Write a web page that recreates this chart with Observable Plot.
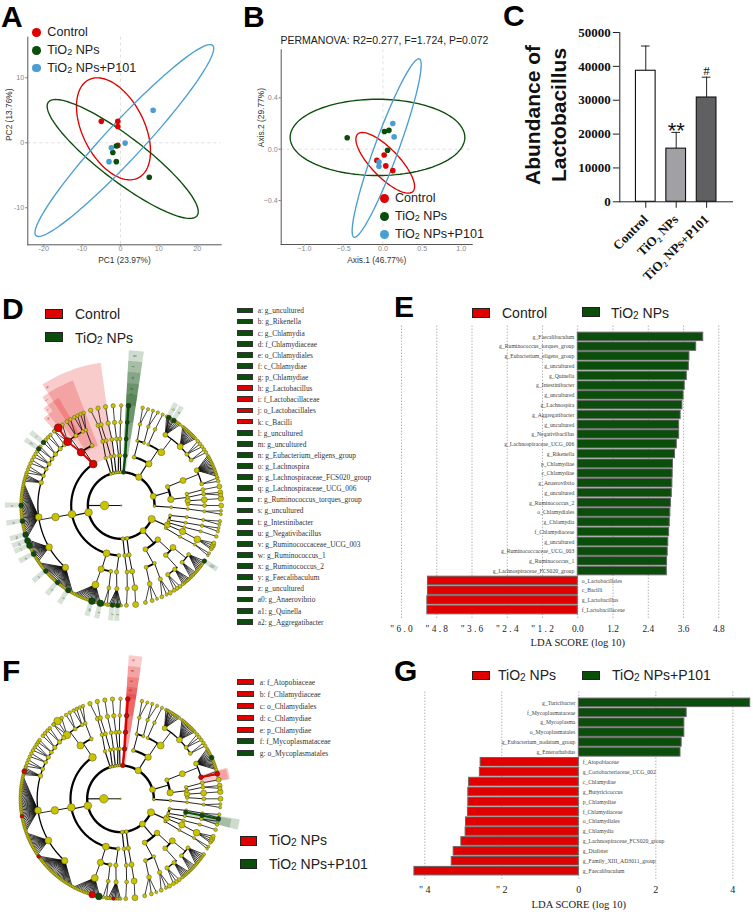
<!DOCTYPE html>
<html><head><meta charset="utf-8">
<script src="https://cdn.jsdelivr.net/npm/d3@7"></script>
<script src="https://cdn.jsdelivr.net/npm/@observablehq/plot@0.6"></script>
<style>
html,body{margin:0;padding:0;background:#fff}
#root{position:relative;width:753px;height:912px;overflow:hidden;font-family:"Liberation Sans",Arial,sans-serif}
#root svg{position:absolute;overflow:visible;background:transparent}
.h{position:absolute;white-space:nowrap;line-height:1;transform:translateY(-50%)}
.p{position:absolute;font-weight:bold;font-size:30px;line-height:1;color:#000}
.s{position:absolute;box-sizing:border-box;border:1.5px solid #222}
.c{position:absolute;border-radius:50%}
sub{font-size:.72em;vertical-align:-0.12em;line-height:0}
</style></head><body><div id="root"></div>
<script>
const RED="#e00000", GREEN="#0b4d0b", BLUE="#4a9ed2", OLIVE="#c9c300";
const groupNames=["Control","TiO2 NPs","TiO2 NPs+P101"];
const groupColors=[RED,GREEN,BLUE];

// Panel A
const pcaControlX=[-5.0,-0.7,-0.7,-0.7], pcaControlY=[3.3,3.3,2.5,-0.4];
const pcaTiO2X=[-1.1,-2.0,-1.1,7.5], pcaTiO2Y=[-0.5,-1.5,-2.9,-5.3];
const pcaP101X=[8.5,1.2,-2.4,-3.0], pcaP101Y=[5.0,-0.05,-0.76,-2.9];
// ellipses: centre x, centre y, half width, half height, correlation
const pcaEllipses=[[-1.83,2.15,9.65,7.85,-0.44],[0.57,-2.49,19.7,9.15,-0.887],[1.0,0.35,23.3,14.77,0.96]];
// Panel B
const pcoaControlX=[0.016,-0.077,0.037,0.126], pcoaControlY=[-0.045,-0.087,-0.13,-0.167];
const pcoaTiO2X=[-0.455,0.02,0.077,0.06], pcoaTiO2Y=[0.089,0.138,0.147,-0.008];
const pcoaP101X=[0.126,0.143,-0.05,-0.05], pcoaP101Y=[0.2,0.096,-0.1,-0.133];
const pcoaEllipses=[[0.03,-0.106,0.374,0.236,-0.78],[-0.069,0.092,1.113,0.297,0],[0.048,0.009,0.44,0.695,0.93]];
// Panel C
const lactoMeans=[38700,15700,30800], lactoTops=[46000,20500,36800];
const lactoFills=["#ffffff","#a0a0a5","#606062"], lactoMarks=["","**","#"];
// Panel E
const eNames=["g_Faecalibaculum","g_Ruminococcus_torques_group","g_Eubacterium_eligens_group","g_uncultured","g_Quinella","g_Intestinibacter","g_uncultured","g_Lachnospira","g_Aggregatibacter","g_uncultured","g_Negativibacillus","g_Lachnospiraceae_UCG_006","g_Rikenella","p_Chlamydiae","c_Chlamydiae","g_Anaerovibrio","g_uncultured","g_Ruminococcus_2","o_Chlamydiales","g_Chlamydia","f_Chlamydiaceae","g_uncultured","g_Ruminococcaceae_UCG_003","g_Ruminococcus_1","g_Lachnospiraceae_FCS020_group","o_Lactobacillales","c_Bacilli","g_Lactobacillus","f_Lactobacillaceae"];
const eScores=[4.27,4.03,3.8,3.78,3.71,3.64,3.6,3.56,3.5,3.45,3.45,3.37,3.31,3.24,3.23,3.22,3.2,3.17,3.15,3.13,3.11,3.08,3.06,3.04,3.03,-5.1,-5.1,-5.12,-5.12];
const eTicks=[-6,-4.8,-3.6,-2.4,-1.2,0,1.2,2.4,3.6,4.8];
const eTickLabels=['" 6 . 0','" 4 . 8','" 3 . 6','" 2 . 4','" 1 . 2','0.0','1.2','2.4','3.6','4.8'];
// Panel G
const gNames=["g_Turicibacter","f_Mycoplasmataceae","g_Mycoplasma","o_Mycoplasmatales","g_Eubacterium_nodatum_group","g_Enterorhabdus","f_Atopobiaceae","g_Coriobacteriaceae_UCG_002","c_Chlamydiae","g_Butyricicoccus","p_Chlamydiae","f_Chlamydiaceae","o_Chlamydiales","g_Chlamydia","g_Lachnospiraceae_FCS020_group","g_Dialister","g_Family_XIII_AD3011_group","g_Faecalibaculum"];
const gScores=[4.45,2.8,2.74,2.74,2.67,2.64,-2.55,-2.57,-2.85,-2.87,-2.87,-2.88,-2.93,-2.94,-3.05,-3.25,-3.3,-4.27];
const gTicks=[-4,-2,0,2,4];
const gTickLabels=['" 4','" 2','0','2','4'];
// Keys
const keyD=["a: g_uncultured","b: g_Rikenella","c: g_Chlamydia","d: f_Chlamydiaceae","e: o_Chlamydiales","f: c_Chlamydiae","g: p_Chlamydiae","h: g_Lactobacillus","i: f_Lactobacillaceae","j: o_Lactobacillales","k: c_Bacilli","l: g_uncultured","m: g_uncultured","n: g_Eubacterium_eligens_group","o: g_Lachnospira","p: g_Lachnospiraceae_FCS020_group","q: g_Lachnospiraceae_UCG_006","r: g_Ruminococcus_torques_group","s: g_uncultured","t: g_Intestinibacter","u: g_Negativibacillus","v: g_Ruminococcaceae_UCG_003","w: g_Ruminococcus_1","x: g_Ruminococcus_2","y: g_Faecalibaculum","z: g_uncultured","a0: g_Anaerovibrio","a1: g_Quinella","a2: g_Aggregatibacter"];
const keyDRed=[7,8,9,10];
const keyF=["a: f_Atopobiaceae","b: f_Chlamydiaceae","c: o_Chlamydiales","d: c_Chlamydiae","e: p_Chlamydiae","f: f_Mycoplasmataceae","g: o_Mycoplasmatales"];
const keyFGreen=[5,6];

// Cladogram: [angle clockwise from top, node radius, ...children]; a bare number is a small leaf
const cladeTree=[270,4.3,
 [114,3.6,
  [101.5,1.6,[100,1.6,[100,1.6,[99,1.7],[101,1.5]]]],
  [107,1.6,[105,1.6,[104,1.8,[103,1.5],[105,1.7]]]],
  [110,1.4,[109,1.5,[108,1.6,[108,1.8]]]],
  [113,3,[113,3.2,[114,3.4,[112,2],[113.5,2.6],[115,2.2],[116,1.6]]]],
  [117,1.4,[118,1.5,[118,1.5,[118.5,1.5],[120,1.3]]]]],
 [139,3,
  [133,2.8,
   [129,3,[126,2,[123.7,1.8],125,126,127,128,129,130,131],[133,2,132,133,134,135,136]],
   [138,2.4,[140,2.2,137,138,139,140,141,142],[146,2.2,[144,2],[146,2],[148,2]]]],
  [151,2.5,
   [150,1.8,[152,2.2,[150.7,2.2],[153,1.6],[156,2]]],
   [158,2,[160,2.4,[159,1.5],[162,2],[166,2]]]]],
 [170,2,[171,2.2,[170.5,2.6,[170.6,3,[171.7,3]]]]],
 [177,2,[176,2,[175,2,[175.8,2,[177,2]]]]],
 [258,3.8,
  [182.7,2,[184,2.2,[183,2.2,180,181,182,183,184,185,186,187]]],
  [197,3.5,
   [189,2,[188.5,2,[188,2],[190,1.5]]],
   [197.5,3.2,[198,3.5,192,193,194,195,196,197,198,199,200,201,202,203,204,205,206,207,208]]],
  [260,3.8,[260,3.8,
   [222,3.2,209,210,211,212,213,214,215,216,217,218,219,220,221,222,223,224,225,226,227,228,229,230,231,232,233,234,235],
   [240,3.4,236,237,238,239,240,241,242,243,244,245,246,247,248,249,250],
   [262,3.4,251,252,253,254,255,256,257,258,259,260,261,262,263,264,265,266,267,268,269,270,271,272,273,274,275,276,277,278,279,280,281,282,283],
   [286,2.4,284,285,286,287,288],
   [291,2,[289,1.8],[291,1.8],[293,1.8]],
   [296,2,[295,1.8],[297,1.8]],
   [300,2.2,[299,1.8],[301,1.8],[303,1.8]],
   [304,2,[304.5,1.8],[306,1.8]],
   [308,2.2,[309,1.8],[311,1.8]],
   [313,2.2,[313,1.8],[315,1.8]],
   [317,2.2,[318,1.8]]]],
  [326,3.8,
   [323,3.5,
    [320,3.8,[321,3.8],[318,1.8],[324,1.8]],
    [327,2,[327,1.8],[329.5,1.8]],
    [332.5,1.8,[332,1.8],[334,1.8]]],
   [334,2,[335,1.8,[336,1.8],[338,1.8]]]]],
 [342,1.5,[342,1.8,[344,2,[344,2.2,[342.2,2.2]]]]],
 [346,1.5,[348,1.8,[347,2,[346,2.2,[346.6,2.2]]]]],
 [351,1.5,[352,1.8,[352,2,[351,2.2,[351,2.2]]]]],
 [355,1.5,[357,1.8,[356,2,[355.4,2.2,[355.4,2.2]]]]],
 [359,1.5,[359,1.8,[359,2,[359.5,1.8,[360,1.8]]]]],
 [364,1.6,[364.5,1.8,[364.3,1.8,[364.2,1.8,[364.2,1.8]]]]],
 [392,3.2,
  [15,2,[14,1.6,[13,1.8,[12.4,1.8],[15.6,1.6]]],[20,1.6,[19,1.8,[18.5,1.6],[21.5,1.6]]]],
  [33.6,3.2,
   [24,1.6,[24,1.8,[24.5,1.6]]],
   [37,3.5,
    [32,2.5,27,28,28.5,29,30,31,31.8,33,34,35,36],
    [45,3,38,39,40,41,42,43,44,45,46,47,48],
    [52,2,[50,1.8],[52,1.8],[54,1.8]],
    [57,2,[56,1.8],[58,1.8]]]]],
 [434,3,
  [68,2.2,[68,3,[65,2.5,60,61,62,63,64,65,66,67,68,69,70,71,72,73],[75,2,[74,1.8],[76,1.8]]]],
  [83,3.2,
   [80,1.8,[79,2,[79,2.5]]],
   [83,1.8,[82,2,[82.4,2.5],[84,2]]],
   [86,2.8,[86,3,[86,2.8]]],
   [89,1.8,[90,2,[90,2.5]]]]],
 [451,1.4,[92,1.5,[93,1.5,[94,1.6,[93,1.5],[95,1.5]]]]]
];

// Sectors: start angle, end angle, inner and outer ring, colour group
const dSectorA0=[-33,-36,-38.6,-41.7, 3,3,3,3,3];
const dSectorA1=[-8,-21,-30,-36, 8.6,8.6,8.6,8.6,8.6];
const dSectorR0=[2.9,3.8,4.8,5.9, 2,3,4,5,6];
const dSectorR1=[8.62,8.0,7.42,6.96, 9.3,8.66,8.0,7.32,6.66];
const dSectorC=[RED,RED,RED,RED,GREEN,GREEN,GREEN,GREEN,GREEN];
const dTipAngles=[28.5,31.8,123.7,182,185,192,197,212,219.6,229,241,246.4,249.4,253,261,270,304.5,309];
const dTipLabels=["b","a","a0","z","y","x","w","v","u","t","s","r","q","p","o","n","m","l"];
const dTipSizes=[2.3,2.3,2.2,2.3,2.3,3.3,3.3,2.6,2.2,2.3,2.5,3,3,2.8,2.4,2.4,2.3,2.3];
const dChainGreenRing=[2,3,4,5,6], dChainGreenAngle=[364,364.6,364.3,364.2,364.2], dChainGreenR=[2,2,2,2,2.4];
const dChainRedRing=[3,4,5,6], dChainRedAngle=[326,323,320,321], dChainRedR=[3.8,3.8,3.9,3.9];
const dChainLabels=["g","f","e","d","c"], dChainLabelRing=[9,8.35,7.7,7,6.7];
const dRedLabels=["k","j","i","h"], dRedLabelRing=[8.35,7.75,7.25,6.8], dRedLabelAngle=[-32,-35,-37.5,-40];

const fSectorA0=[3.5,3.5,3.5,3.5,3.5, 74,74.5, 100,100.5];
const fSectorA1=[9,9,9,9,9, 80,80, 105,105];
const fSectorR0=[2,3,4,5,6, 4.9,5.9, 3.9,4.9];
const fSectorR1=[8.6,7.95,7.3,6.7,6.3, 6.7,6.6, 7.3,6.8];
const fSectorC=[RED,RED,RED,RED,RED,RED,RED,GREEN,GREEN];
const fChainRedRing=[2,3,4,5,6], fChainRedAngle=[364,364.6,364.3,364.2,364.2], fChainRedR=[2.2,2.3,2.3,2.3,2.4];
const fChain2Ring=[5,6], fChain2Angle=[75,75.5], fChain2R=[2.4,2.4];
const fChainGreenRing=[4,5,6], fChainGreenAngle=[101.7,101.5,101.6], fChainGreenR=[2.2,2.3,2.3];
const fTipAngles=[286,260,234.8,196.4,192.5,184,65.7];
const fTipSizes=[2.5,1.9,1.9,3.3,3.4,1.7,2.4];
const fTipColors=[RED,RED,RED,RED,GREEN,RED,GREEN];
const fChainLabels=["e","d","c","b"], fChainLabelRing=[8.35,7.7,7.1,6.55];

const root=document.getElementById("root");
const rad=a=>a*Math.PI/180;
const px=(l,a)=>l*Math.sin(rad(a)), py=(l,a)=>l*Math.cos(rad(a));
function place(svg,left,top){svg.style.left=left+"px";svg.style.top=top+"px";root.appendChild(svg);return svg;}
function html(cls,left,top,inner,style=""){const d=document.createElement("div");d.className=cls;d.style.cssText=`left:${left}px;top:${top}px;${style}`;d.innerHTML=inner;root.appendChild(d);}
const T2=s=>s.replace("TiO2","TiO<sub>2</sub>");
function ellipse(e,n){const [cx,cy,sx,sy,r]=e;return d3.range(0,361,3).map(t=>({x:cx+sx*Math.cos(rad(t)),y:cy+sy*(r*Math.cos(rad(t))+Math.sqrt(1-r*r)*Math.sin(rad(t))),g:n}));}
const pts=(xs,ys,i)=>xs.map((x,j)=>({x,y:ys[j],g:i}));

function ordination({left,top,width,height,ml,mt,mr,mb,xd,yd,xt,yt,xl,yl,xlDy,ylDx,ell,points,yFmt,xFmt}){
 const marks=[
  Plot.ruleX([0],{stroke:"#ddd",strokeDasharray:"3,3",strokeWidth:.9}),
  Plot.ruleY([0],{stroke:"#ddd",strokeDasharray:"3,3",strokeWidth:.9}),
  Plot.frame({anchor:"left",stroke:"#555",strokeWidth:1}),
  Plot.frame({anchor:"bottom",stroke:"#555",strokeWidth:1}),
  Plot.axisX({ticks:xt,tickSize:1.5,tickPadding:0,tickFormat:xFmt,label:null,fontSize:7.2,color:"#888",stroke:"#777"}),
  Plot.axisY({ticks:yt,tickSize:2,tickPadding:1.5,tickFormat:yFmt,label:null,fontSize:7.2,color:"#888",stroke:"#777"}),
  ...ell.map((e,i)=>Plot.line(ellipse(e,i),{x:"x",y:"y",stroke:groupColors[i],strokeWidth:1.35})),
  Plot.dot(points,{x:"x",y:"y",fill:d=>groupColors[d.g],r:2.8}),
  Plot.text([xl],{frameAnchor:"bottom",dy:xlDy,fontSize:8.4,fill:"#333"}),
  Plot.text([yl],{frameAnchor:"left",dx:ylDx,rotate:-90,fontSize:8.4,fill:"#333"})
 ];
 place(Plot.plot({width,height,marginLeft:ml,marginTop:mt,marginRight:mr,marginBottom:mb,
  x:{domain:xd,axis:null},y:{domain:yd,axis:null},color:{type:"identity"},
  style:{fontFamily:"Liberation Sans",background:"transparent"},marks}),left,top);
}

ordination({left:0,top:30,width:235,height:240,ml:27.3,mt:6.7,mr:14.3,mb:25.7,xd:[-24.17,26.25],yd:[-15.7,16.25],
 xt:[-20,-10,0,10,20],yt:[-10,0,10],xl:"PC1 (23.97%)",yl:"PC2 (13.76%)",xlDy:18,ylDx:-19,ell:pcaEllipses,xFmt:d=>String(d),yFmt:d=>String(d),
 points:[...pts(pcaControlX,pcaControlY,0),...pts(pcaTiO2X,pcaTiO2Y,1),...pts(pcaP101X,pcaP101Y,2)]});
ordination({left:240,top:30,width:245,height:240,ml:40.7,mt:19.3,mr:13.3,mb:26,xd:[-1.296,1.138],yd:[-0.742,0.774],
 xt:[-1,-.5,0,.5,1],yt:[-.4,0,.4],xl:"Axis.1 (46.77%)",yl:"Axis.2 (29.77%)",xlDy:18,ylDx:-20,ell:pcoaEllipses,xFmt:d3.format(".1f"),yFmt:d3.format(".1f"),
 points:[...pts(pcoaControlX,pcoaControlY,0),...pts(pcoaTiO2X,pcoaTiO2Y,1),...pts(pcoaP101X,pcoaP101Y,2)]});

// Panel C
place(Plot.plot({width:253,height:290,marginLeft:119.3,marginTop:32,marginRight:21,marginBottom:88.7,
 x:{type:"band",domain:groupNames,range:[124.7,226.7],padding:.353,round:false,axis:null},
 y:{domain:[0,50000],axis:null},color:{type:"identity"},
 style:{fontFamily:"Liberation Serif",fontWeight:"bold",background:"transparent",color:"#111"},
 marks:[
  Plot.ruleX(groupNames,{x:d=>d,y1:(d,i)=>lactoMeans[i],y2:(d,i)=>lactoTops[i],stroke:"#222",strokeWidth:1}),
  Plot.tickY(groupNames,{x:d=>d,y:(d,i)=>lactoTops[i],stroke:"#222",strokeWidth:1,insetLeft:5.5,insetRight:5.5}),
  Plot.barY(groupNames,{x:d=>d,y:(d,i)=>lactoMeans[i],fill:(d,i)=>lactoFills[i],stroke:"#111",strokeWidth:1.1}),
  Plot.frame({anchor:"left",stroke:"#222",strokeWidth:1}),
  Plot.frame({anchor:"bottom",stroke:"#222",strokeWidth:1}),
  Plot.axisY({ticks:[0,10000,20000,30000,40000,50000],tickSize:6.5,tickPadding:2.5,tickFormat:d=>String(d),label:null,fontSize:13,stroke:"#222"}),
  Plot.axisX({tickSize:6.5,tickPadding:9,tickRotate:-45,label:null,fontSize:13,stroke:"#222",tickFormat:d=>d.replace("TiO2","TiO₂")}),
  Plot.text(groupNames,{x:d=>d,y:(d,i)=>lactoTops[i],text:(d,i)=>lactoMarks[i],lineAnchor:"bottom",fontFamily:"Liberation Sans",fontSize:22,fontWeight:"normal",letterSpacing:1,filter:(d,i)=>i==1,dy:6}),
  Plot.text(groupNames,{x:d=>d,y:(d,i)=>lactoTops[i],text:(d,i)=>lactoMarks[i],lineAnchor:"bottom",fontSize:13,fontWeight:"normal",filter:(d,i)=>i==2,dy:-2})
 ]}),500,0);
const yl=document.createElement("div");
yl.style.cssText=`position:absolute;left:545px;top:115px;width:200px;transform:translate(-50%,-50%) rotate(-90deg);text-align:center;font:bold 21px/25.5px "Liberation Sans";color:#111`;
yl.innerHTML="Abundance of<br>Lactobacillus";root.appendChild(yl);

// Diverging LDA bars
function lda({names,scores,ticks,tickLabels,left,top,width,height,xRange,xDomain,yRange,axisFs,pad,gridTop,gridBottom,labelDy,axisDy,labelFs}){
 const rows=names.map((n,i)=>({i,n,v:scores[i]}));
 const lab=new Map(ticks.map((t,i)=>[t,tickLabels[i]]));
 place(Plot.plot({width,height,marginLeft:0,marginRight:0,marginTop:gridTop,marginBottom:height-gridBottom,
  x:{domain:xDomain,range:xRange,axis:null},
  y:{type:"band",domain:rows.map(d=>d.i),range:yRange,padding:pad,round:false,axis:null},
  color:{type:"identity"},
  style:{fontFamily:"Liberation Serif",background:"transparent"},
  marks:[
   Plot.ruleX(ticks,{stroke:"#777",strokeDasharray:"1,2",strokeWidth:.8}),
   Plot.barX(rows,{x:"v",y:"i",fill:d=>d.v>0?GREEN:RED,stroke:"#666",strokeWidth:1}),
   Plot.text(rows,{x:0,y:"i",text:"n",textAnchor:"end",filter:d=>d.v>0,fontSize:labelFs,fill:"#444",dx:-3.5}),
   Plot.text(rows,{x:0,y:"i",text:"n",textAnchor:"start",filter:d=>d.v<0,fontSize:labelFs,fill:"#444",dx:4}),
   Plot.axisX({ticks,tickSize:0,tickPadding:axisDy,tickFormat:d=>lab.get(d),label:null,fontSize:axisFs,fill:"#222"}),
   Plot.text(["LDA SCORE (log 10)"],{x:0,frameAnchor:"bottom",dy:labelDy,fontSize:10.6,fill:"#222"})
  ]}),left,top);
}
lda({names:eNames,scores:eScores,ticks:eTicks,tickLabels:eTickLabels,left:395,top:295,width:358,height:350,
 xRange:[6,333],xDomain:[-6,5.13],yRange:[35.8,320.2],axisFs:9.4,pad:.14,gridTop:30.7,gridBottom:323,labelDy:27,axisDy:7,labelFs:5.7});
lda({names:gNames,scores:gScores,ticks:gTicks,tickLabels:gTickLabels,left:395,top:640,width:358,height:272,
 xRange:[29.3,354.7],xDomain:[-4,4.45],yRange:[56.7,236.3],axisFs:10,pad:.14,gridTop:51.7,gridBottom:240.7,labelDy:27,axisDy:5,labelFs:5.7});

// Cladogram
function buildTree(){
 const nodes=[{x:0,y:0,r:.8}],links=[],arcs=[];let id=0;
 const arcW={2:2.4,3:2.2,4:1.8,5:1.3,6:.6};
 const linkW={2:1.2,3:1.2,4:1,5:.9,6:.8};
 (function walk(n,depth,pa){
  let a=n[0];
  if(depth>=3&&pa!=null){while(a-pa>180)a-=360;while(pa-a>180)a+=360;}
  nodes.push({x:px(depth,a),y:py(depth,a),r:n[1]});
  const kids=n.slice(2).map(k=>typeof k==="number"?[k,1.5]:k);
  const d=depth+1;
  const norm=k=>{let b=k[0];if(d>=3){while(b-a>180)b-=360;while(a-b>180)b+=360;}return b;};
  if(kids.length){
   const as=kids.map(norm);
   if(kids.length==1||d==6){
    kids.forEach((k,i)=>links.push({x1:px(depth,a),y1:py(depth,a),x2:px(d,as[i]),y2:py(d,as[i]),w:d==6&&kids.length>5?.85:linkW[d]}));
   }else{
    const lo=Math.min(a,...as),hi=Math.max(a,...as),sid=id++;
    d3.range(lo,hi+.01,1).concat([hi]).forEach(t=>arcs.push({x:px(d,t),y:py(d,t),id:sid,w:arcW[d]}));
    links.push({x1:px(depth,a),y1:py(depth,a),x2:px(d,a),y2:py(d,a),w:linkW[d]});
   }
  }
  kids.forEach(k=>walk(k,d,a));
 })(cladeTree,1,null);
 links.push({x1:0,y1:0,x2:px(1,270),y2:py(1,270),w:1});
 return {nodes,links,arcs};
}
const tree=buildTree();
const sectorRows=(a0,a1,r0,r1,c)=>a0.flatMap((s,i)=>d3.range(s,a1[i]+.01,(a1[i]-s)/10).map(t=>({x1:px(r0[i],t),y1:py(r0[i],t),x2:px(r1[i],t),y2:py(r1[i],t),id:i,c:c[i]})));
const at=(rings,angs,rs,col)=>rings.map((l,i)=>({x:px(l,angs[i]),y:py(l,angs[i]),r:rs[i],c:col}));
const chainLinks=(a,col,w)=>d3.pairs(a).map(([p,q])=>({x1:p.x,y1:p.y,x2:q.x,y2:q.y,c:col,w}));
const radRot=a=>{a=((a%360)+360)%360;return a<180?a-90:a+90;};

function cladogram({left,top,width,height,xd,yd,sectors,tips=[],chains,hi,labels}){
 const nodeStroke="#4a4a20";
 place(Plot.plot({width,height,margin:0,x:{domain:xd,axis:null},y:{domain:yd,axis:null},r:{type:"identity"},color:{type:"identity"},
  style:{fontFamily:"Liberation Sans",background:"transparent"},
  marks:[
   Plot.area(sectors,{x1:"x1",y1:"y1",x2:"x2",y2:"y2",z:"id",fill:"c",fillOpacity:.2}),
   Plot.area(tips,{x1:"x1",y1:"y1",x2:"x2",y2:"y2",z:"id",fill:"c",fillOpacity:.16}),
   Plot.link(tree.links,{x1:"x1",y1:"y1",x2:"x2",y2:"y2",stroke:"#111",strokeWidth:"w"}),
   Plot.line(tree.arcs,{x:"x",y:"y",z:"id",stroke:"#000",strokeWidth:"w"}),
   Plot.dot(tree.nodes,{x:"x",y:"y",r:"r",fill:OLIVE,stroke:nodeStroke,strokeWidth:.45}),
   Plot.link(chains,{x1:"x1",y1:"y1",x2:"x2",y2:"y2",stroke:"c",strokeWidth:"w"}),
   Plot.dot(hi,{x:"x",y:"y",r:"r",fill:"c",stroke:"#222",strokeWidth:.5}),
   Plot.text(labels,{x:"x",y:"y",text:"t",rotate:"rot",fill:"c",fontSize:4.3,fillOpacity:.7})
  ]}),left,top);
}
const L=16.667;
const dTipSect=sectorRows(dTipAngles.map(a=>a-1.3),dTipAngles.map(a=>a+1.3),dTipAngles.map(()=>6.05),dTipAngles.map(()=>6.95),dTipAngles.map(()=>GREEN));
cladogram({left:0,top:345,width:232,height:290,xd:[-120.7/L,111.3/L],yd:[-130/L,160/L],
 sectors:sectorRows(dSectorA0,dSectorA1,dSectorR0,dSectorR1,dSectorC),
 tips:dTipSect,
 chains:[...chainLinks(at(dChainGreenRing,dChainGreenAngle,dChainGreenR,GREEN),GREEN,2.4),...chainLinks(at(dChainRedRing,dChainRedAngle,dChainRedR,RED),RED,2)],
 hi:[...at(dChainGreenRing,dChainGreenAngle,dChainGreenR,GREEN),...at(dChainRedRing,dChainRedAngle,dChainRedR,RED),
     ...dTipAngles.map((a,i)=>({x:px(6,a),y:py(6,a),r:dTipSizes[i],c:GREEN}))],
 labels:[...dTipAngles.map((a,i)=>({x:px(6.55,a),y:py(6.55,a),t:dTipLabels[i],rot:radRot(a),c:GREEN})),
   ...dChainLabels.map((t,i)=>({x:px(dChainLabelRing[i],5),y:py(dChainLabelRing[i],5),t,rot:-85,c:GREEN})),
   ...dRedLabels.map((t,i)=>({x:px(dRedLabelRing[i],dRedLabelAngle[i]),y:py(dRedLabelRing[i],dRedLabelAngle[i]),t,rot:radRot(dRedLabelAngle[i]),c:"#800"}))]
});
cladogram({left:0,top:650,width:250,height:262,xd:[-120/L,130/L],yd:[-113.7/L,148.3/L],
 sectors:sectorRows(fSectorA0,fSectorA1,fSectorR0,fSectorR1,fSectorC),
 chains:[...chainLinks(at(fChainRedRing,fChainRedAngle,fChainRedR,RED),RED,2.4),...chainLinks(at(fChain2Ring,fChain2Angle,fChain2R,RED),RED,2),...chainLinks(at(fChainGreenRing,fChainGreenAngle,fChainGreenR,GREEN),GREEN,2)],
 hi:[...at(fChainRedRing,fChainRedAngle,fChainRedR,RED),...at(fChain2Ring,fChain2Angle,fChain2R,RED),...at(fChainGreenRing,fChainGreenAngle,fChainGreenR,GREEN),
     ...fTipAngles.map((a,i)=>({x:px(6,a),y:py(6,a),r:fTipSizes[i],c:fTipColors[i]}))],
 labels:fChainLabels.map((t,i)=>({x:px(fChainLabelRing[i],5.2),y:py(fChainLabelRing[i],5.2),t,rot:-85,c:"#800"}))
});

// HTML labels and legends
[["A",1,2],["B",243,2],["C",503,1],["D",2,294],["E",394,292],["F",2,656],["G",394,656]].forEach(([t,x,y])=>html("p",x,y,t));
[[32.3,0],[50.3,1],[68,2]].forEach(([y,i])=>{html("c",32.4,y-4.3,"",`width:8.6px;height:8.6px;background:${groupColors[i]}`);html("h",47.3,y,T2(groupNames[i]),"font-size:12.6px;color:#222");});
[[198.3,0],[216,1],[234.3,2]].forEach(([y,i])=>{html("c",379.8,y-4.5,"",`width:9px;height:9px;background:${groupColors[i]}`);html("h",395,y,T2(groupNames[i]),"font-size:12.6px;color:#222");});
html("h",280.5,40,"PERMANOVA: R2=0.277, F=1.724, P=0.072","font-size:10.5px;color:#222");
const rect=(x,y,c)=>html("s",x,y,"",`width:17.5px;height:9.5px;background:${c}`);
const leg=(x,y,t)=>html("h",x,y,T2(t),"font-size:14px;color:#222");
rect(45,309,RED);leg(75,313.5,"Control");rect(45,332,GREEN);leg(75,338,"TiO2 NPs");
rect(472,308,RED);leg(502,312.7,"Control");rect(582,307,GREEN);leg(611,312.7,"TiO2 NPs");
rect(472,670.5,RED);leg(498,675,"TiO2 NPs");rect(582,670.5,GREEN);leg(612,675,"TiO2 NPs+P101");
rect(239.5,836,RED);leg(269,840,"TiO2 NPs");rect(239.5,859,GREEN);leg(269,864,"TiO2 NPs+P101");
keyD.forEach((t,i)=>{const y=310.3+i*11.12;html("s",236.7,y-2.8,"",`width:16px;height:5.8px;border-width:.7px;border-color:#333;background:${keyDRed.includes(i)?RED:GREEN}`);html("h",257.7,y,t,`font:7.4px "Liberation Serif";color:#333`);});
keyF.forEach((t,i)=>{const y=682.3+i*11.8;html("s",237,y-3,"",`width:17px;height:6.2px;border-width:.8px;border-color:#333;background:${keyFGreen.includes(i)?GREEN:RED}`);html("h",259.7,y,t,`font:7.6px "Liberation Serif";color:#333`);});
</script></body></html>
